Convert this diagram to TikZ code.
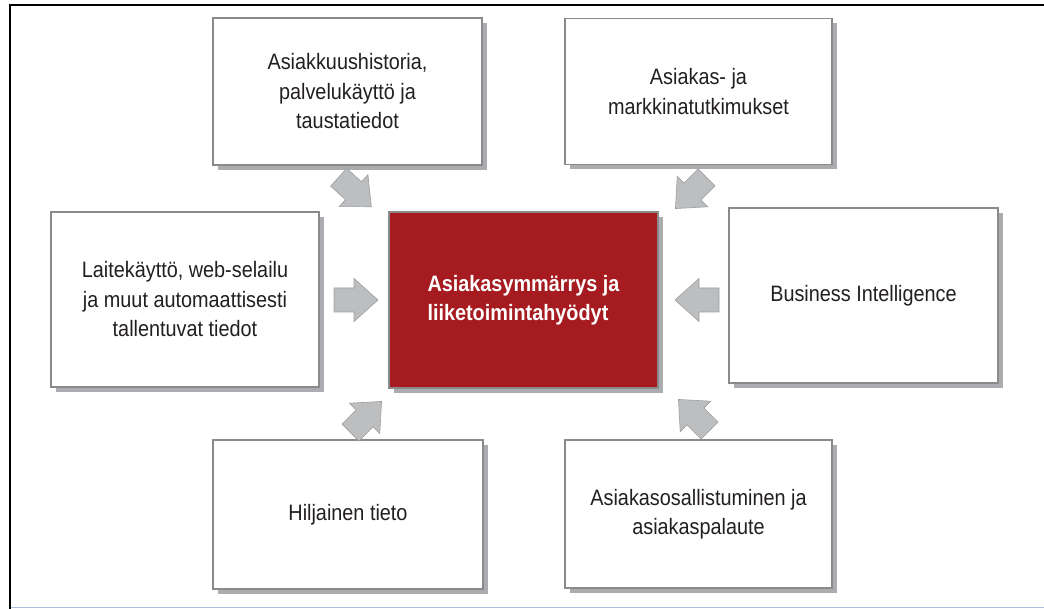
\documentclass[tikz,border=0pt]{standalone}
\usepackage{fontspec}
\setmainfont[FakeStretch=0.89]{Liberation Sans}
\definecolor{boxgray}{HTML}{8A8A8A}
\definecolor{shadowgray}{HTML}{ABACAF}
\definecolor{textc}{HTML}{231F20}
\definecolor{redbox}{HTML}{A51B1F}
\definecolor{arrowgray}{HTML}{BDBEC0}
\definecolor{arrowline}{HTML}{9D9EA0}
\definecolor{framebl}{HTML}{A9C0DA}
\usetikzlibrary{shadows}
\begin{document}
\begin{tikzpicture}[x=1pt,y=1pt,
  infobox/.style={draw=boxgray, line width=1.2pt, fill=white, inner sep=0pt,
    align=center, text=textc, font=\fontsize{22.3}{29.5}\selectfont,
    drop shadow={shadow xshift=5pt, shadow yshift=-5pt, fill=shadowgray, opacity=1}},
  corebox/.style={infobox, fill=redbox, text=white, align=left,
    font=\bfseries\fontsize{22.3}{29}\selectfont},
  blockarrow/.pic={\filldraw[fill=arrowgray, draw=arrowline, line width=0.6pt]
    (-22,-12) -- (-2,-12) -- (-2,-21.5) -- (22,0) -- (-2,21.5) -- (-2,12) -- (-22,12) -- cycle;}
]
\useasboundingbox (0,0) rectangle (1044,-609);
% frame
\draw[framebl, line width=1.5pt] (10,-607.5) -- (1044,-607.5);
\draw[black, line width=2pt] (10,-609) -- (10,-5.5) -- (1044,-5.5);

% boxes
\node[infobox, minimum width=269pt, minimum height=147pt] (tl) at (347.5,-91.5)
  {Asiakkuushistoria,\\palvelukäyttö ja\\taustatiedot};
\node[infobox, minimum width=267pt, minimum height=146pt] (tr) at (698.5,-91.5)
  {Asiakas- ja\\markkinatutkimukset};
\node[infobox, minimum width=268pt, minimum height=175pt] (ml) at (185,-299.5)
  {Laitekäyttö, web-selailu\\ja muut automaattisesti\\tallentuvat tiedot};
\node[corebox, minimum width=269pt, minimum height=176pt] (core) at (523.5,-300)
  {Asiakasymmärrys ja\\liiketoimintahyödyt};
\node[infobox, minimum width=269pt, minimum height=175pt] (mr) at (863.5,-295.5)
  {Business Intelligence};
\node[infobox, minimum width=270pt, minimum height=149pt] (bl) at (348,-514.5)
  {Hiljainen tieto};
\node[infobox, minimum width=267pt, minimum height=148pt] (br) at (698.5,-514)
  {Asiakasosallistuminen ja\\asiakaspalaute};

% arrow positions
\coordinate (atl) at (355,-192);
\coordinate (atr) at (691,-193);
\coordinate (aml) at (356,-300);
\coordinate (amr) at (697,-300);
\coordinate (abl) at (366,-417);
\coordinate (abr) at (694,-415);

\pic[rotate=-42] at (atl) {blockarrow};
\pic[rotate=-135] at (atr) {blockarrow};
\pic[rotate=0] at (aml) {blockarrow};
\pic[rotate=180] at (amr) {blockarrow};
\pic[rotate=45] at (abl) {blockarrow};
\pic[rotate=135] at (abr) {blockarrow};
\end{tikzpicture}
\end{document}
